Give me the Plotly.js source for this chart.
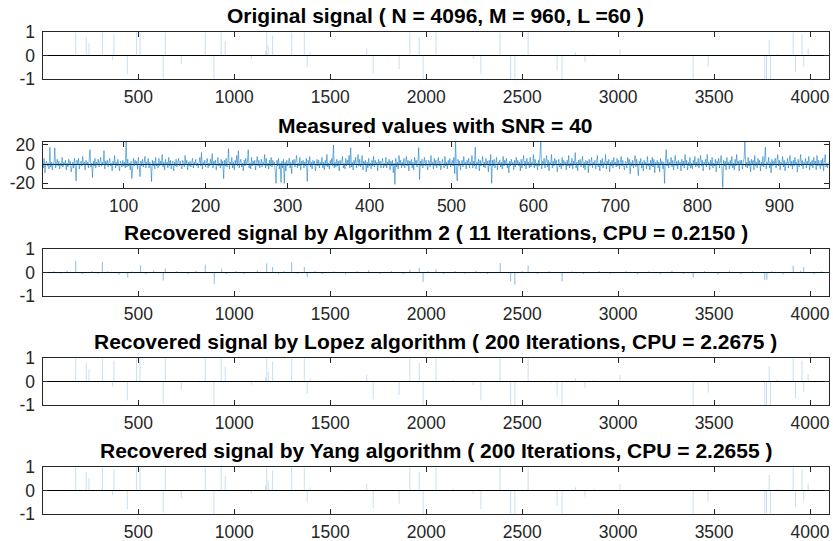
<!DOCTYPE html>
<html>
<head>
<meta charset="utf-8">
<script src="https://cdn.plot.ly/plotly-3.0.1.min.js"></script>
<style>html,body{margin:0;padding:0;background:#fff}#chart{width:833px;height:541px}</style>
</head>
<body>
<div id="chart"></div>
<script>
// ---------------- DATA ----------------
const signalLength = 4096;
const measurementCount = 960;

const titles = [
  "Original signal ( N = 4096, M = 960, L =60 )",
  "Measured values with SNR = 40",
  "Recovered signal by Algorithm 2 ( 11 Iterations, CPU = 0.2150 )",
  "Recovered signal by Lopez algorithm ( 200 Iterations, CPU = 2.2675 )",
  "Recovered signal by Yang algorithm ( 200 Iterations, CPU = 2.2655 )"
];

const signalTicks = [500, 1000, 1500, 2000, 2500, 3000, 3500, 4000];
const measTicks = [100, 200, 300, 400, 500, 600, 700, 800, 900];
const unitTicks = [-1, 0, 1];
const measYTicks = [-20, 0, 20];

// original sparse signal: positions and amplitudes
const origPos = [174,229,243,313,366,373,443,491,509,630,641,724,849,894,932,953,1089,1163,1169,1177,1200,1299,1365,1380,1396,1690,1724,1859,1915,
  1964,1984,2051,2141,2245,2285,2384,2440,2462,2531,2682,2708,2778,2827,2875,3010,3391,3469,3764,3773,3787,3794,3828,3912,3924,3958,3967,3990];
const origVal = [1,0.79,0.53,1,-0.2,0.9,-0.8,1,1,-0.95,1,-0.35,1,-1,1,0.64,-0.14,0.2,1,0.43,0.86,1,1,-0.5,0.14,0.31,-0.76,-0.57,1,
  0.8,-1,1,0.07,-0.14,-0.8,1,-1,-1,1,-0.64,-1,0.14,-0.26,0.07,0.29,-1,-0.47,-1,-1,0.67,-1,0.07,1,-0.71,0.9,-0.46,0.31];

// measured values (960 samples)
const measVal = [
 2,-4,6,-9,1,3,-2,1,-5,17.5,-3,2,-6,1,-1,17,-4,2,5,-2,
 3,-5,1,-2,7,-3,2,-1,4,-6,1,-3,5,-1,3,-8,1,2,-4,6,
 -2,-17.5,4,-1,6,-5,1,3,-2,8,-1,2,-6,4,-1,2,-4,5,15,-3,
 1,-14,3,-2,6,-4,2,-1,5,-3,1,7,-2,2,-1,14,-5,3,-1,4,
 -3,2,6,-2,1,-7,3,-1,9,-4,2,-2,5,-1,-7,3,1,-3,4,-2,
 2,-4,23.2,-3,5,-2,1,-6,3,-15,2,6,-2,4,-1,3,-5,7,-1,-13,
 3,-2,5,-3,1,8,-4,2,-1,6,-4,2,-1,-18,4,-2,3,-5,7,-2,
 1,-4,6,-2,3,-1,10,-3,2,-6,5,-1,2,-4,7,-2,4,-5,1,3,
 -7,2,-2,5,-3,1,6,-2,3,-1,-5,4,2,-3,9,-1,4,-6,2,-2,
 3,-3,1,6,-4,2,-1,5,-2,1,-4,3,7,-2,12,-5,2,-1,4,-3,
 2,6,-4,1,-2,5,-1,11,-4,3,-1,4,-6,2,7,-2,1,-4,5,-2,
 3,-15,4,-2,6,-3,1,16,-5,2,-1,7,-4,2,-6,4,-1,9,-2,14,
 -4,2,5,-3,1,-7,4,-2,6,-1,2,15,-4,1,-5,7,-2,3,-1,4,
 -6,2,8,-2,4,-4,1,5,-3,2,-1,10,-4,6,-2,1,-5,4,-2,7,
 -3,4,-1,2,-8,-20,4,-2,6,-5,1,-19,3,-4,5,-20,2,-7,4,-2,
 1,6,-4,2,-10,4,-1,5,-3,2,9,-4,1,-2,7,-6,3,-1,4,-4,
 2,-2,6,-18,4,-1,8,-3,2,-5,4,-1,3,-7,1,5,-2,4,-4,2,
 -1,7,-4,2,-6,4,-2,10,-3,1,-5,4,-1,6,-2,20,-4,2,-3,5,
 -2,3,-7,4,-1,2,8,-4,1,-5,6,-2,4,-1,9,-4,17,-3,2,-6,
 4,-1,7,-4,2,10,-2,5,-3,1,9,-6,3,-1,4,-8,2,-4,6,-2,
 1,-5,4,-2,8,-3,4,-1,2,-7,5,-1,3,-4,2,6,-4,1,-2,7,
 -4,2,-1,5,-6,3,-2,4,-9,1,-21,6,-3,2,-5,9,-1,4,-4,2,
 -2,6,-4,1,8,-2,4,-7,3,-1,5,-4,2,-6,7,-1,4,-3,2,17,
 -16,3,-2,5,-4,1,7,-2,4,-1,-6,4,2,-3,9,-1,2,-5,6,-2,
 4,-4,1,7,-2,3,-6,2,5,-1,-4,8,-2,2,-5,4,-1,6,-3,1,
 4,-2,7,-10,23,-4,-17.5,5,-2,3,-6,1,4,-3,8,-1,2,-5,4,-1,
 6,-4,2,-1,9,-4,3,-2,17.5,-5,2,-1,5,-7,4,-2,1,8,-3,2,
 -4,6,-1,3,-8,4,-2,10,-20,4,-2,5,-4,1,7,-6,2,-1,4,-3,
 2,-5,8,-2,4,-1,6,-4,1,-9,3,-2,5,-1,2,-6,4,-3,7,-1,
 4,-2,2,-7,5,-4,1,9,-2,3,-5,6,-1,2,-4,7,-3,2,-1,10,
 -4,5,-2,1,-6,4,-2,8,23,-5,3,-1,6,-4,2,9,-3,4,-7,2,
 -1,10,-4,3,-2,6,-1,4,-8,2,5,-3,1,-5,7,-2,4,-1,2,-6,
 4,-2,9,-4,1,-2,6,-5,3,-1,12,-4,2,-7,4,-1,5,-3,2,8,
 -4,2,-6,4,-1,3,-9,5,-2,1,7,-4,2,-1,4,-5,2,9,-3,1,
 -7,4,-2,6,-4,2,-1,10,-5,3,-1,5,-8,2,-2,4,-4,7,-1,2,
 -3,6,-2,4,-5,1,8,-2,4,-1,-6,3,2,-4,7,-1,5,-10,2,-2,
 4,-4,1,9,-3,5,-2,-12,3,-1,6,-4,2,-7,4,-1,2,-5,8,-2,
 1,-6,4,-2,7,-3,5,-9,2,-1,4,-4,2,-8,6,-1,3,-5,2,-20,
 4,15,-2,5,-4,2,-1,7,-3,4,-6,1,9,-2,3,-5,4,-1,2,-7,
 5,-2,3,-4,10,-1,4,-6,2,-2,7,-4,1,-5,4,-1,8,-3,2,-2,
 6,-4,1,9,-2,4,-7,2,-1,5,-3,10,-1,2,-6,4,-2,7,-4,1,
 -2,5,-8,3,-1,6,-4,2,9,-4,-24.5,4,-2,3,-6,7,-1,2,-5,4,
 -2,8,-4,1,-6,5,-2,10,-1,3,-7,4,-1,4,-5,2,6,23,-3,2,
 -4,7,-2,3,-8,5,-1,4,-6,9,-2,2,-4,6,-1,4,-7,2,-2,8,
 -3,4,17.5,-5,2,-1,7,-4,2,-9,5,-2,3,-1,6,-4,1,10,-2,4,
 -6,2,-1,8,-3,4,-7,2,-1,6,-4,1,9,-2,3,-5,4,-2,7,-1,
 2,-8,5,-3,1,10,-2,4,-5,2,-1,6,-4,3,-1,8,-6,2,-2,4,
 -4,7,-1,3,-6,9,-2,4,-1,-5,4,-2,6,-7,2,10,-3,1,-4,2
];

// Algorithm 2 recovery
const alg2Pos = [60,95,130,174,210,260,290,313,340,400,445,470,512,540,580,630,641,700,760,800,849,896,934,960,1010,1050,1120,1169,1200,1230,1260,1299,1330,1365,1380,1420,1460,1520,1580,1640,1700,1760,1820,1880,1915,1964,1984,2010,2051,2090,2150,2200,2260,2320,2386,2440,2462,2500,2531,2580,2640,2708,2760,2820,2900,2960,3040,3100,3160,3220,3280,3340,3391,3450,3520,3580,3640,3700,3764,3775,3800,3860,3912,3950,3967,4020,4060];
const alg2Val = [0.05,-0.04,0.08,0.49,-0.06,0.07,-0.05,0.46,0.06,-0.08,-0.21,0.05,0.31,-0.07,0.09,-0.33,0.17,0.06,-0.05,0.08,0.34,-0.47,0.17,-0.06,0.07,-0.05,0.09,0.39,0.24,-0.07,0.06,0.44,-0.05,0.24,-0.19,0.07,-0.06,0.05,-0.08,0.06,0.1,-0.05,0.07,-0.06,0.12,0.2,-0.4,0.06,0.13,-0.05,0.07,-0.04,0.08,-0.06,0.41,-0.37,-0.51,0.07,0.3,-0.05,0.06,-0.37,0.05,-0.06,0.07,-0.05,0.06,-0.07,0.05,-0.06,0.08,-0.05,-0.21,0.06,-0.08,0.07,-0.06,0.05,-0.3,-0.3,0.06,-0.07,0.29,0.08,0.24,-0.06,0.05];

// Lopez / Yang recoveries (nearly identical to the original plus small residuals)
const lopezPos = origPos.concat([300,820,1530,2150,2650,3150,3828,4040]);
const lopezVal = origVal.concat([0.03,-0.04,0.05,0.03,-0.05,0.04,0.07,-0.03]);
const yangPos = origPos.concat([420,1010,1600,2210,2760,3320,3840,4050]);
const yangVal = origVal.concat([-0.04,0.03,-0.05,0.04,0.05,-0.03,0.06,0.04]);

// ---------------- HELPERS ----------------
function spikeTrace(pos, val, xa, ya, continuous, color) {
  const pairs = pos.map((p, i) => [p, val[i]]).sort((a, b) => a[0] - b[0]);
  const x = [], y = [];
  if (continuous) { x.push(1); y.push(0); }
  pairs.forEach(([p, v]) => {
    if (continuous) { x.push(p - 1, p, p + 1); y.push(0, v, 0); }
    else { x.push(p, p, null); y.push(0, v, null); }
  });
  if (continuous) { x.push(signalLength); y.push(0); }
  return { x, y, xaxis: xa, yaxis: ya, type: 'scatter', mode: 'lines',
    line: { color: color, width: 1 }, hoverinfo: 'skip', showlegend: false };
}

const W = 833, H = 541;
const xLeft = 42.5, xRight = 828.5;
const panels = [[32.3, 79], [141.7, 187.7], [249, 296.3], [358.3, 405], [467.3, 513.7]];
const axisColor = '#262626';
const fontFam = 'Liberation Sans, Arial, sans-serif';
const tickSize = 17.5;

function xAxis(range, ticks, anchor) {
  return { domain: [xLeft / W, xRight / W], range: range, tickvals: ticks, ticktext: ticks.map(String),
    ticks: 'inside', ticklen: 5, tickcolor: axisColor, tickwidth: 1, mirror: 'allticks',
    showline: true, linecolor: axisColor, linewidth: 1, showgrid: false, zeroline: false,
    tickfont: { family: fontFam, size: tickSize, color: axisColor }, anchor: anchor, ticklabelstandoff: 2 };
}
function yAxis(idx, range, ticks, anchor) {
  const [t, b] = panels[idx];
  return { domain: [1 - b / H, 1 - t / H], range: range, tickvals: ticks, ticktext: ticks.map(String),
    ticks: 'inside', ticklen: 5, tickcolor: axisColor, tickwidth: 1, mirror: 'allticks',
    showline: true, linecolor: axisColor, linewidth: 1, showgrid: false,
    zeroline: true, zerolinecolor: '#000000', zerolinewidth: 1,
    tickfont: { family: fontFam, size: tickSize, color: axisColor }, anchor: anchor, ticklabelstandoff: 3 };
}

const spikeColor = 'rgba(0,114,189,0.22)';
const data = [
  spikeTrace(origPos, origVal, 'x', 'y', false, spikeColor),
  { x: measVal.map((_, i) => i + 1), y: measVal, xaxis: 'x2', yaxis: 'y2', type: 'scatter', mode: 'lines',
    line: { color: 'rgba(0,114,189,0.75)', width: 0.7 }, hoverinfo: 'skip', showlegend: false },
  spikeTrace(alg2Pos, alg2Val, 'x3', 'y3', true, 'rgba(0,114,189,0.25)'),
  spikeTrace(lopezPos, lopezVal, 'x4', 'y4', false, spikeColor),
  spikeTrace(yangPos, yangVal, 'x5', 'y5', false, spikeColor)
];

const annotations = titles.map((t, i) => ({
  text: '<b>' + t + '</b>', xref: 'paper', yref: 'paper', x: (xLeft + xRight) / 2 / W,
  y: 1 - panels[i][0] / H, xanchor: 'center', yanchor: 'bottom', yshift: 3, showarrow: false,
  font: { family: fontFam, size: 21, color: '#000000' }
}));

const layout = {
  width: W, height: H, margin: { l: 0, r: 0, t: 0, b: 0 },
  paper_bgcolor: '#ffffff', plot_bgcolor: '#ffffff', showlegend: false,
  xaxis: xAxis([1, signalLength], signalTicks, 'y'),
  yaxis: yAxis(0, [-1, 1], unitTicks, 'x'),
  xaxis2: xAxis([1, measurementCount], measTicks, 'y2'),
  yaxis2: yAxis(1, [-24.5, 23.3], measYTicks, 'x2'),
  xaxis3: xAxis([1, signalLength], signalTicks, 'y3'),
  yaxis3: yAxis(2, [-1, 1], unitTicks, 'x3'),
  xaxis4: xAxis([1, signalLength], signalTicks, 'y4'),
  yaxis4: yAxis(3, [-1, 1], unitTicks, 'x4'),
  xaxis5: xAxis([1, signalLength], signalTicks, 'y5'),
  yaxis5: yAxis(4, [-1, 1], unitTicks, 'x5'),
  annotations: annotations
};

Plotly.newPlot('chart', data, layout, { staticPlot: true, displayModeBar: false });
</script>
</body>
</html>
